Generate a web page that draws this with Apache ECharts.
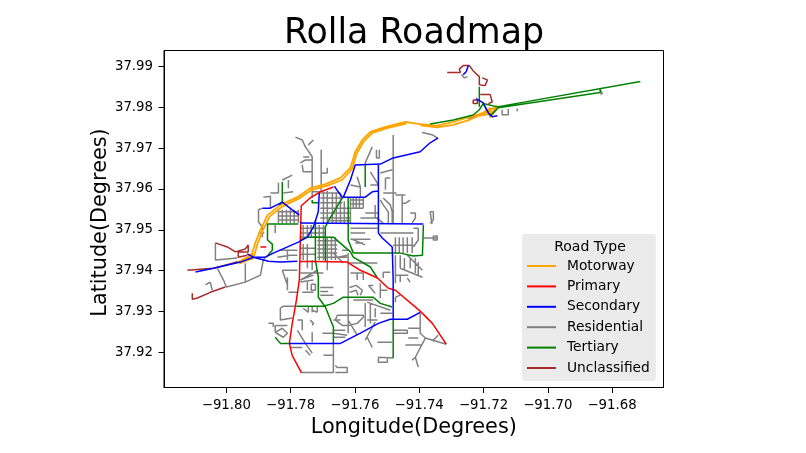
<!DOCTYPE html>
<html><head><meta charset="utf-8">
<style>html,body{margin:0;padding:0;background:#fff}#c{width:806px;height:453px}</style>
<script src="https://cdn.jsdelivr.net/npm/echarts@6/dist/echarts.min.js"></script>
</head><body><div id="c"></div>
<script>
// Roads as polylines: flat lists of lon,lat pairs in 1e-4 degrees
// (a pair L,A means longitude -(91 + L/10000), latitude 37 + A/10000).
const xTicks=[-91.80,-91.78,-91.76,-91.74,-91.72,-91.70,-91.68];
const yTicks=[37.92,37.93,37.94,37.95,37.96,37.97,37.98,37.99];
const typeNames=['Motorway','Primary','Secondary','Residential','Tertiary','Unclassified'];
const motorway=[
[7963,9421,7922,9438,7910,9468,7894,9500,7872,9536,7832,9561,7779,9580,7739,9602,7692,9612,7645,9627,7614,9652,7599,9691,7577,9720,7552,9740,7505,9752,7443,9764,7397,9759,7344,9755,7294,9764,7241,9777,7210,9784,7179,9794,7154,9801],
[7960,9417,7915,9432,7903,9466,7887,9498,7865,9533,7826,9557,7773,9577,7733,9598,7686,9608,7640,9622,7608,9650,7594,9688,7571,9718,7546,9737,7500,9749,7440,9760],
[7397,9756,7344,9751,7294,9757,7241,9770,7216,9779,7179,9784,7157,9799],
[7216,9779,7198,9784,7157,9804],[7198,9784,7179,9799,7179,9775,7157,9799],[7205,9782,7190,9795,7170,9785],
[7972,9420,7919,9429,7919,9445],[7956,9421,7919,9443],[7945,9422,7925,9435]];
const primary=[
[7767,9151,7795,9192,7804,9222,7795,9271,7782,9328,7773,9377,7770,9468,7768,9532,7767,9559,7739,9578,7708,9593,7667,9605],
[7770,9423,7624,9421,7583,9401,7530,9382,7496,9357,7474,9352,7397,9301,7359,9271,7316,9220],
[7894,9458,7876,9458]];
const secondary=[
[8096,9397,8040,9406,7956,9421,7916,9433,7879,9433,7854,9443,7776,9470,7748,9482,7729,9507,7714,9544,7711,9590],
[7935,9441,7916,9433,7869,9423,7832,9421,7779,9423],
[7888,9553,7863,9553,7826,9568,7795,9549,7773,9536],
[7664,9607,7652,9593,7639,9580,7568,9580,7546,9593,7527,9595],
[7636,9580,7614,9622,7599,9659,7521,9661,7481,9676,7397,9691,7366,9713,7341,9725],
[7527,9661,7527,9492,7515,9480,7484,9458,7481,9377,7481,9284],
[7770,9517,7387,9514],
[7804,9222,7645,9222,7583,9247,7527,9271,7490,9281,7437,9281,7397,9298],
[7247,9902,7254,9887,7263,9880],
[7223,9821,7201,9811,7185,9786,7173,9777,7157,9779]];
const tertiary=[
[7776,9514,7872,9514,7872,9475,7857,9465,7857,9450,7876,9433],
[7826,9617,7826,9568,7835,9561],
[7733,9573,7733,9566,7714,9566],
[7639,9578,7677,9529,7692,9507,7692,9450,7692,9421],
[7723,9524,7723,9419],
[7770,9475,7748,9482,7667,9482,7614,9446,7605,9433,7552,9409,7530,9382],
[7605,9443,7459,9443,7418,9436,7390,9438,7387,9512],
[7621,9578,7621,9475,7605,9443],
[7568,9659,7568,9605],
[7723,9426,7714,9384,7714,9335,7692,9311,7667,9262,7667,9222],
[7782,9313,7698,9313,7667,9320,7636,9335,7543,9335,7521,9320,7484,9311],
[7481,9284,7481,9186],
[7848,9237,7832,9222,7804,9222],
[7366,9759,7294,9769,7232,9781,7213,9794,7201,9809,7157,9801,6712,9863],
[7179,9779,7154,9799,6837,9836,6837,9845],
[7213,9850,7213,9801],
[7201,9809,7179,9779]];
const unclassified=[
[8121,9401,8040,9406,7966,9421],
[8106,9345,8106,9330,8090,9333,8050,9347,8003,9360],
[8034,9468,7997,9458,7972,9446,7941,9453,7932,9463,7932,9446,7963,9446,7963,9433,7935,9438],
[7313,9885,7272,9885,7275,9894,7263,9902,7244,9902,7232,9889,7213,9875,7213,9855,7195,9853,7188,9867,7204,9872],
[7210,9831,7179,9831,7173,9813,7185,9809],
[7232,9818,7219,9818,7219,9809,7232,9809,7232,9818]];
const residential=[
// north east spur
[7269,9880,7260,9872,7250,9875],[6837,9843,6830,9833,6837,9833],[7142,9794,7142,9782,7123,9782,7123,9796],[7095,9790,7095,9797],[7247,9772,7226,9777],[7391,9738,7360,9733,7344,9725],
// north
[7785,9727,7764,9720,7754,9703,7733,9679,7733,9578],[7705,9696,7705,9593],[7705,9639,7686,9639,7686,9652],[7770,9664,7754,9671,7733,9671],[7764,9659,7761,9642,7733,9642],[7745,9708,7729,9720],[7761,9678,7742,9678],[7733,9593,7708,9593],
[7481,9732,7481,9514],[7546,9703,7568,9664,7568,9659],[7533,9696,7533,9676,7524,9676,7524,9696],[7521,9639,7484,9647],[7552,9642,7527,9610,7552,9610],[7593,9630,7583,9605],[7614,9610,7583,9605,7583,9580],[7505,9627,7505,9598],[7505,9627,7490,9627],
// east block
[7512,9590,7471,9590],[7474,9585,7443,9585],[7453,9585,7453,9517],[7453,9565,7443,9565,7428,9573],[7512,9578,7490,9561,7484,9544,7484,9517],[7512,9561,7496,9544,7496,9517],[7537,9561,7537,9531,7512,9517],[7521,9573,7512,9561],[7428,9541,7412,9541,7412,9529,7422,9517],[7366,9544,7356,9544,7356,9524,7366,9517],[7366,9544,7360,9514],[7568,9541,7527,9541],[7583,9529,7527,9529],
// below the east west road
[7614,9504,7530,9504],[7614,9492,7568,9492],[7614,9477,7552,9477],[7599,9468,7574,9468],[7608,9477,7568,9463],[7521,9492,7418,9492],
[7474,9482,7474,9443],[7462,9482,7462,9443],[7450,9482,7450,9443],[7437,9482,7437,9443],[7422,9482,7422,9443],[7481,9462,7418,9462],
[7418,9504,7403,9504,7403,9475,7418,9458],[7387,9480,7344,9480],[7356,9485,7344,9485,7344,9475,7356,9475,7356,9485],
// south east diagonal block
[7474,9438,7474,9369],[7437,9438,7390,9401],[7459,9406,7390,9384],[7412,9431,7412,9394],[7403,9421,7403,9389],[7459,9438,7459,9406],[7446,9431,7446,9401],[7428,9431,7428,9406],
// centre south
[7621,9443,7621,9247],[7621,9419,7530,9419],[7614,9394,7574,9394],[7593,9394,7593,9377],[7574,9394,7574,9377],
[7617,9359,7596,9364,7577,9352,7583,9340],[7617,9347,7596,9352,7590,9340],[7558,9364,7537,9345],[7543,9364,7558,9364],
[7521,9369,7521,9333],[7521,9352,7499,9352],[7512,9396,7490,9396],[7512,9396,7512,9382],[7474,9389,7434,9389],[7459,9389,7459,9372],[7437,9382,7428,9372],[7474,9335,7459,9340],[7474,9335,7474,9323],
[7568,9320,7568,9262],[7552,9320,7552,9271],[7537,9308,7537,9286],[7521,9296,7484,9296],[7562,9323,7490,9303],[7605,9328,7543,9328],
[7655,9291,7661,9279,7639,9266,7621,9266,7593,9271,7574,9286,7574,9291,7655,9291],[7621,9279,7593,9242],[7562,9279,7530,9279],[7562,9237,7546,9212],[7537,9274,7568,9230],[7530,9225,7484,9225],
[7527,9188,7527,9176,7499,9176,7499,9186,7481,9186],[7527,9188,7481,9186],
[7481,9254,7437,9254,7437,9247,7481,9247],[7434,9259,7397,9259],[7434,9235,7403,9235],[7443,9218,7391,9218],
[7397,9296,7397,9247,7381,9235,7412,9188,7422,9181],[7412,9188,7403,9164],[7381,9235,7316,9220],[7359,9228,7341,9242],
[7667,9254,7630,9254],[7667,9247,7624,9242],[7667,9237,7630,9237],[7667,9279,7645,9279],
[7667,9222,7667,9151,7770,9151],[7698,9193,7667,9193],[7661,9168,7655,9163,7624,9163,7624,9151,7661,9151],
[7708,9359,7667,9359],[7708,9349,7683,9349],[7708,9340,7667,9340],[7736,9367,7723,9367,7723,9352,7736,9352,7736,9367],
[7770,9377,7717,9401],[7745,9311,7745,9298],[7717,9311,7717,9298],[7733,9311,7733,9298],[7686,9426,7686,9401],[7733,9426,7733,9401],[7748,9426,7748,9406],
// south west
[7782,9313,7823,9313,7832,9308,7832,9279,7795,9284],[7869,9271,7854,9271,7854,9262],[7848,9266,7810,9266],[7848,9249,7823,9237,7810,9247,7826,9259,7848,9249],[7848,9266,7848,9249],
[7779,9279,7764,9279,7764,9254],[7779,9254,7754,9222,7733,9198],[7754,9205,7739,9193],[7739,9279,7729,9271,7733,9266],[7733,9249,7733,9225],[7801,9212,7764,9212],[7701,9247,7667,9247],[7761,9308,7745,9298],[7733,9303,7717,9298],
// west
[8034,9468,8034,9426,7966,9431],[8028,9406,8009,9377,8000,9360,7941,9372,7894,9389,7885,9426,7879,9433],[7941,9418,7941,9372],[8050,9372,8044,9352],[8065,9365,8050,9372],
[7888,9553,7900,9549,7900,9519,7888,9507,7888,9482],[7900,9492,7882,9492],[7848,9512,7848,9492],[7885,9580,7863,9582,7863,9553],
[7826,9622,7795,9634],[7823,9590,7792,9593],[7807,9602,7807,9622],[7863,9590,7838,9590,7838,9615],
[7832,9450,7779,9450],[7810,9450,7810,9426],[7841,9433,7801,9438,7779,9438],[7826,9401,7779,9401],[7826,9401,7810,9365],[7810,9384,7810,9352],[7807,9347,7776,9347],
[7770,9394,7698,9394],[7770,9377,7729,9389],[7764,9347,7729,9347],[7770,9372,7729,9377],[7748,9372,7748,9352],
// grid west of the northern primary
[7838,9544,7776,9544],[7838,9534,7776,9534],[7838,9524,7776,9524],
[7838,9549,7838,9517],[7826,9549,7826,9517],[7813,9549,7813,9517],[7801,9549,7801,9517],[7789,9549,7789,9517],[7776,9549,7776,9517],
// northern grid
[7708,9590,7645,9590],[7708,9578,7639,9578],[7708,9566,7639,9566],[7708,9553,7614,9553],[7708,9541,7614,9541],[7708,9529,7614,9529],[7677,9522,7614,9522],
[7698,9595,7698,9514],[7686,9595,7686,9514],[7670,9590,7670,9514],[7658,9590,7658,9514],[7645,9590,7645,9514],[7633,9570,7633,9514],
// grid east of the tertiary
[7614,9573,7574,9573],[7614,9563,7574,9563],[7614,9553,7574,9553],
[7614,9578,7614,9514],[7605,9578,7605,9553],[7596,9578,7596,9553],[7586,9578,7586,9553],[7574,9578,7574,9553],
// downtown
[7761,9512,7761,9480],[7748,9512,7748,9480],[7736,9512,7736,9480],[7770,9504,7692,9504],[7770,9492,7692,9492],[7770,9482,7692,9482],
[7717,9473,7655,9473],[7717,9463,7655,9463],[7717,9453,7655,9453],[7717,9443,7655,9443],[7717,9433,7655,9433],
[7711,9512,7711,9426],[7698,9512,7698,9426],[7686,9482,7686,9426],[7673,9482,7673,9426],[7661,9482,7661,9426],
[7770,9455,7723,9455],[7770,9440,7723,9440],[7761,9465,7761,9426],[7748,9465,7748,9426],
[7640,9450,7621,9450],[7645,9433,7624,9433],[7667,9443,7636,9419],[7652,9433,7624,9438]];

const roadTypes=[
 {name:'Residential',data:residential,color:'#808080',width:1.5},
 {name:'Motorway',data:motorway,color:'#ffa500',width:1.8},
 {name:'Unclassified',data:unclassified,color:'#a52a2a',width:1.5},
 {name:'Tertiary',data:tertiary,color:'#008000',width:1.5},
 {name:'Primary',data:primary,color:'#ff0000',width:1.5},
 {name:'Secondary',data:secondary,color:'#0000ff',width:1.5}
];
function toPoints(lines){
 const out=[];
 lines.forEach(l=>{
  for(let i=0;i<l.length;i+=2) out.push([-(91+l[i]/10000),37+l[i+1]/10000]);
  out.push(['-','-']);
 });
 return out;
}
const font='DejaVu Sans';
const axisBase={type:'value',nameLocation:'middle',splitLine:{show:false},
 axisLine:{show:true,onZero:false,lineStyle:{color:'#000',width:1}},
 axisTick:{show:true,length:5.5,lineStyle:{color:'#000',width:1}},
 nameTextStyle:{fontFamily:font,fontSize:20.8,color:'#000'}};
const chart=echarts.init(document.getElementById('c'),null,{renderer:'canvas'});
chart.setOption({
 animation:false,backgroundColor:'#fff',
 title:[
  {text:'Rolla Roadmap',left:409,top:11,textAlign:'center',textStyle:{fontFamily:font,fontSize:34.8,fontWeight:'normal',color:'#000'}},
  {text:'Road Type',left:585,top:235,textAlign:'center',textStyle:{fontFamily:font,fontSize:14,fontWeight:'normal',color:'#000'}}
 ],
 grid:{left:164,top:50.5,width:499.5,height:337,show:true,borderColor:'#000',borderWidth:1,backgroundColor:'#fff',containLabel:false},
 xAxis:Object.assign({},axisBase,{min:-91.8194,max:-91.664,name:'Longitude(Degrees)',nameGap:30,
  axisTick:Object.assign({},axisBase.axisTick,{customValues:xTicks}),
  axisLabel:{customValues:xTicks,color:'#000',fontFamily:font,fontSize:13.3,margin:12,formatter:v=>'\u2212'+Math.abs(v).toFixed(2)}}),
 yAxis:Object.assign({},axisBase,{min:37.9114,max:37.9939,name:'Latitude(Degrees)',nameGap:53,nameMoveOverlap:false,
  nameTextStyle:Object.assign({},axisBase.nameTextStyle,{padding:[0,7,0,0]}),
  axisTick:Object.assign({},axisBase.axisTick,{customValues:yTicks}),
  axisLabel:{customValues:yTicks,color:'#000',fontFamily:font,fontSize:13.3,margin:11,padding:[2,0,0,0],formatter:v=>v.toFixed(2)}}),
 legend:{data:typeNames,orient:'vertical',left:522,top:234,padding:[25,6,6,5],itemGap:6.4,itemWidth:29,itemHeight:2,icon:'rect',
  backgroundColor:'#ebebeb',borderRadius:3,selectedMode:false,
  textStyle:{fontFamily:font,fontSize:13.8,lineHeight:13,color:'#000',padding:[0,0,0,6]}},
 series:roadTypes.map(r=>({name:r.name,type:'line',data:toPoints(r.data),showSymbol:false,symbol:'none',connectNulls:false,
  lineStyle:{color:r.color,width:r.width},itemStyle:{color:r.color},emphasis:{disabled:true},silent:true}))
});
</script></body></html>
